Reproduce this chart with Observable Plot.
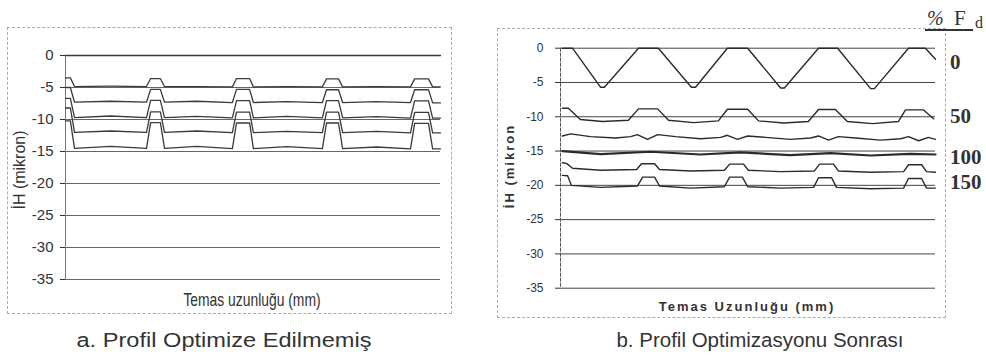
<!DOCTYPE html>
<html><head><meta charset="utf-8">
<script src="https://cdn.jsdelivr.net/npm/d3@7"></script>
<script src="https://cdn.jsdelivr.net/npm/@observablehq/plot@0.6"></script>
<style>
body{margin:0;background:#fff;width:986px;height:361px;overflow:hidden;position:relative;font-family:"Liberation Sans",Arial,sans-serif;color:#333}
.frame{position:absolute;border:1px dashed #aaa;pointer-events:none;box-sizing:border-box}
.rot{position:absolute;transform:translate(-50%,-50%) rotate(-90deg);white-space:nowrap}
.ctr{position:absolute;transform:translate(-50%,-50%);white-space:nowrap}
.pl{position:absolute;top:0}
.serif{position:absolute;font-family:"Liberation Serif","Times New Roman",serif;font-weight:bold;font-size:21px;color:#333;line-height:1}
.fd{position:absolute;font-family:"Liberation Serif","Times New Roman",serif;color:#333;line-height:1;white-space:nowrap}
</style></head><body>
<div class="frame" style="left:7px;top:27px;width:445px;height:287px"></div>
<div class="frame" style="left:497px;top:28px;width:449px;height:290px"></div>
<div id="left" class="pl" style="left:0;width:460px"></div>
<div id="right" class="pl" style="left:490px;width:470px"></div>
<div class="rot" style="left:20px;top:170px;font-size:16px">İH (mikron)</div>
<div class="ctr" style="left:252px;top:300px;font-size:19px;transform:translate(-50%,-50%) scaleX(0.73)">Temas uzunluğu (mm)</div>
<div class="ctr" style="left:224px;top:340px;font-size:20px;transform:translate(-50%,-50%) scaleX(1.18)">a. Profil Optimize Edilmemiş</div>
<div class="rot" style="left:509px;top:166px;font-size:13px;font-weight:bold;letter-spacing:2px">İH (mikron</div>
<div class="ctr" style="left:747px;top:306px;font-size:13px;font-weight:bold;letter-spacing:2px">Temas Uzunluğu (mm)</div>
<div class="ctr" style="left:760px;top:340px;font-size:20.5px">b. Profil Optimizasyonu Sonrası</div>
<div class="fd" style="left:927px;top:8px;font-size:20px;font-style:italic">%</div>
<div class="fd" style="left:954px;top:8px;font-size:21px">F</div>
<div class="fd" style="left:975px;top:15px;font-size:16px">d</div>
<div style="position:absolute;left:925px;top:29px;width:48px;height:2px;background:#333"></div>
<div id="loads"></div>
<script>
// ---- data: left panel (profile not optimized) ----
const leftX = [0, 1.3, 2.4, 12, 21.6, 22.7, 25.3, 26.4, 35, 44.5, 45.6, 49.1, 50.1, 59, 68.5, 69.6, 72.8, 73.9, 83, 92, 93.1, 96.8, 97.9, 100];
const leftL0 = [0, 0, 0, 0, 0, 0, 0, 0, 0, 0, 0, 0, 0, 0, 0, 0, 0, 0, 0, 0, 0, 0, 0, 0];
const leftL1 = [-3.5, -3.5, -4.85, -4.8, -4.85, -3.6, -3.6, -4.85, -4.85, -4.9, -3.6, -3.6, -4.9, -4.85, -4.9, -3.65, -3.65, -4.9, -4.85, -4.9, -3.65, -3.65, -4.9, -4.9];
const leftL2 = [-5.0, -5.0, -7.3, -7.15, -7.3, -5.3, -5.3, -7.3, -7.15, -7.35, -5.3, -5.3, -7.35, -7.2, -7.35, -5.35, -5.35, -7.35, -7.2, -7.35, -5.35, -5.35, -7.4, -7.4];
const leftL3 = [-6.7, -6.7, -9.7, -9.45, -9.7, -7.0, -7.0, -9.7, -9.5, -9.75, -7.05, -7.05, -9.75, -9.5, -9.75, -7.05, -7.05, -9.75, -9.55, -9.8, -7.1, -7.1, -9.8, -9.8];
const leftL4 = [-8.2, -8.2, -12.0, -11.8, -12.0, -8.8, -8.8, -12.0, -11.8, -12.05, -8.85, -8.85, -12.05, -11.85, -12.05, -8.85, -8.85, -12.05, -11.85, -12.1, -8.9, -8.9, -12.1, -12.1];
const leftL5 = [-10.2, -10.2, -14.5, -14.2, -14.5, -10.5, -10.5, -14.5, -14.2, -14.55, -10.55, -10.55, -14.55, -14.25, -14.55, -10.55, -10.55, -14.55, -14.3, -14.6, -10.6, -10.6, -14.6, -14.6];

// ---- data: right panel (after profile optimization) ----
const r0X = [0.5, 3.2, 10.7, 11.7, 20.8, 26.1, 34.9, 36, 44.5, 49.9, 58.7, 59.7, 68.8, 73.9, 82.7, 83.7, 92.8, 97.3, 100];
const r0Y = [0, 0, -5.7, -5.7, 0, 0, -5.7, -5.7, 0, 0, -5.8, -5.8, 0, 0, -5.9, -5.9, 0, 0, -1.6];
const r50X = [0.5, 2.1, 5.3, 11.2, 18.1, 20.8, 25.9, 28.8, 35.5, 42.1, 44.5, 49.9, 52.8, 59.5, 66.1, 68.8, 73.3, 76.5, 83.2, 90.1, 92, 96.8, 99.5];
const r50Y = [-8.75, -8.75, -10.4, -10.7, -10.5, -8.85, -8.85, -10.5, -10.85, -10.6, -8.9, -8.9, -10.6, -10.9, -10.7, -8.95, -8.95, -10.7, -11.0, -10.7, -9.0, -9.0, -10.3];
const r75X = [0.5, 2.7, 8, 14.7, 18.7, 20.5, 23.2, 25.9, 30.7, 37.3, 42.7, 44.5, 47.2, 49.9, 54.7, 61.3, 66.7, 68.8, 71.5, 74.1, 78.7, 85.3, 90.7, 92.8, 95.5, 98.1, 100];
const r75Y = [-12.8, -12.5, -12.9, -13.1, -12.9, -12.6, -13.3, -12.6, -12.9, -13.2, -13.0, -12.7, -13.3, -12.8, -13.0, -13.3, -13.1, -12.8, -13.4, -12.9, -13.1, -13.4, -13.2, -12.9, -13.5, -13.0, -13.3];
const r100X = [0.5, 10.7, 24, 37.3, 48, 61.3, 72, 82.7, 93.3, 100];
const r100Y = [-15.0, -15.45, -15.1, -15.5, -15.2, -15.6, -15.3, -15.65, -15.4, -15.5];
const r125X = [0.5, 1.6, 3.2, 10.7, 20.3, 21.6, 25.1, 26.4, 34.7, 43.7, 45.1, 48.8, 50.1, 58.7, 67.7, 69.1, 72.8, 74.1, 82.7, 91.5, 92.8, 96.3, 97.6, 100];
const r125Y = [-16.7, -16.8, -17.5, -17.8, -17.7, -16.85, -16.85, -17.7, -17.9, -17.8, -16.9, -16.9, -17.8, -18.0, -17.9, -16.9, -16.9, -17.9, -18.1, -18.0, -17.0, -17.0, -18.0, -18.1];
const r150X = [0.5, 1.9, 2.9, 10.7, 20.5, 21.9, 25.1, 26.4, 34.7, 43.7, 45.1, 48.5, 49.9, 58.7, 67.5, 68.8, 72.3, 73.6, 82.7, 91.5, 92.8, 96.3, 97.6, 100];
const r150Y = [-18.55, -18.6, -20.0, -20.3, -20.1, -18.8, -18.8, -20.1, -20.4, -20.2, -18.8, -18.8, -20.2, -20.4, -20.3, -18.9, -18.9, -20.3, -20.5, -20.4, -19.0, -19.0, -20.4, -20.4];

// ---- ticks and labels ----
const yTicks = [0, -5, -10, -15, -20, -25, -30, -35];
const loadLabels = ["0", "50", "100", "150"];
const loadLabelY = [62, 116, 157, 182];

function rows(xs, ys, name) { return xs.map((x, i) => ({series: name, x, y: ys[i]})); }

const leftData = [
  ...rows(leftX, leftL0, "L0"), ...rows(leftX, leftL1, "L1"), ...rows(leftX, leftL2, "L2"),
  ...rows(leftX, leftL3, "L3"), ...rows(leftX, leftL4, "L4"), ...rows(leftX, leftL5, "L5")
];
const rightThin = [
  ...rows(r0X, r0Y, "R0"), ...rows(r50X, r50Y, "R50"), ...rows(r75X, r75Y, "R75"),
  ...rows(r125X, r125Y, "R125"), ...rows(r150X, r150Y, "R150")
];
const rightThick = rows(r100X, r100Y, "R100");

const leftPlot = Plot.plot({
  width: 460, height: 320,
  marginLeft: 65, marginRight: 20, marginTop: 55, marginBottom: 41,
  style: {background: "transparent", overflow: "visible", fontFamily: "Liberation Sans, Arial, sans-serif", fontSize: "15px", color: "#333"},
  x: {domain: [0, 100], axis: null},
  y: {domain: [-35, 0], ticks: yTicks, tickSize: 5, tickPadding: 7, tickFormat: d => String(d), label: null},
  marks: [
    Plot.ruleY(yTicks, {stroke: "#666", strokeWidth: 1}),
    Plot.ruleX([0], {stroke: "#777", strokeWidth: 1}),
    Plot.line(leftData, {x: "x", y: "y", z: "series", stroke: "#3a3a3a", strokeWidth: 1.3})
  ]
});
document.getElementById("left").appendChild(leftPlot);

const rightPlot = Plot.plot({
  width: 470, height: 330,
  marginLeft: 70, marginRight: 25, marginTop: 47.7, marginBottom: 42.3,
  style: {background: "transparent", overflow: "visible", fontFamily: "Liberation Sans, Arial, sans-serif", fontSize: "12px", color: "#333"},
  x: {domain: [0, 100], axis: null},
  y: {domain: [-35, 0], ticks: yTicks, tickSize: 5, tickPadding: 12, tickFormat: d => String(d), label: null},
  marks: [
    Plot.ruleY(yTicks, {stroke: "#444", strokeWidth: 1}),
    Plot.ruleX([0], {stroke: "#555", strokeWidth: 1, strokeDasharray: "4,1"}),
    Plot.line(rightThin, {x: "x", y: "y", z: "series", stroke: "#2a2a2a", strokeWidth: 1.4}),
    Plot.line(rightThick, {x: "x", y: "y", z: "series", stroke: "#2a2a2a", strokeWidth: 2.2})
  ]
});
document.getElementById("right").appendChild(rightPlot);

const loads = document.getElementById("loads");
loadLabels.forEach((t, i) => {
  const d = document.createElement("div");
  d.className = "serif";
  d.style.left = "950px";
  d.style.top = (loadLabelY[i] - 10) + "px";
  d.textContent = t;
  loads.appendChild(d);
});
</script>
</body></html>
